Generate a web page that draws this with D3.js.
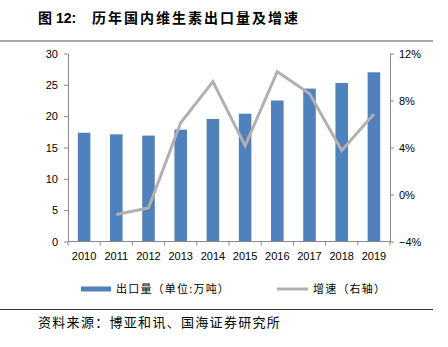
<!DOCTYPE html>
<html><head><meta charset="utf-8">
<script src="https://cdn.jsdelivr.net/npm/d3@7"></script>
<style>body{margin:0;background:#fff}svg{display:block}</style>
</head><body>
<script>
const years = ["2010","2011","2012","2013","2014","2015","2016","2017","2018","2019"];
const exportVolume = [17.35, 17.1, 16.9, 17.85, 19.55, 20.4, 22.5, 24.4, 25.3, 27.0];
const growth = [null, -1.7, -1.15, 6.1, 9.6, 4.15, 10.45, 8.6, 3.75, 6.85];
const leftTicks = [0,5,10,15,20,25,30];
const rightTicks = [-4,0,4,8,12];

const W=448,H=347;
const svg=d3.select("body").append("svg").attr("width",W).attr("height",H);
const cjk='"Noto Sans CJK SC","Liberation Sans",sans-serif';
const latin='"Liberation Sans",Arial,sans-serif';

// title
svg.append("text").attr("x",38).attr("y",23).attr("font-family",cjk).attr("font-weight","bold").attr("font-size",14).text("图");
svg.append("text").attr("x",56).attr("y",23).attr("font-family",latin).attr("font-weight","bold").attr("font-size",14).text("12:");
svg.append("text").attr("x",92).attr("y",23).attr("font-family",cjk).attr("font-weight","bold").attr("font-size",14).attr("letter-spacing",2).text("历年国内维生素出口量及增速");
svg.append("line").attr("x1",0).attr("x2",433).attr("y1",41).attr("y2",41).attr("stroke","#555").attr("stroke-width",1.2);

const x=d3.scaleBand().domain(years).range([68,390]).paddingInner(0.61).paddingOuter(0.305);
const xb=d3.scaleBand().domain(years).range([68,390]);
const yL=d3.scaleLinear().domain([0,30]).range([241.5,53.5]);
const yR=d3.scaleLinear().domain([-4,12]).range([241.5,53.5]);

// bars
svg.append("g").selectAll("rect").data(years).join("rect")
 .attr("x",d=>x(d)).attr("width",x.bandwidth())
 .attr("y",(d,i)=>yL(exportVolume[i])).attr("height",(d,i)=>yL(0)-yL(exportVolume[i]))
 .attr("fill","#4F81BD");

// line
const line=d3.line().defined(d=>d.v!==null).x(d=>xb(d.y)+xb.bandwidth()/2).y(d=>yR(d.v));
svg.append("path").datum(years.map((y,i)=>({y,v:growth[i]})))
 .attr("d",line).attr("fill","none").attr("stroke","#B0B0B0").attr("stroke-width",3).attr("stroke-linejoin","miter");

const axisColor="#888";
function style(g){g.select(".domain").attr("stroke",axisColor);g.selectAll(".tick line").attr("stroke",axisColor);
 g.selectAll("text").attr("font-family",latin).attr("font-size",11).attr("fill","#000");}

svg.append("g").attr("transform","translate(68,0)")
 .call(d3.axisLeft(yL).tickValues(leftTicks).tickSize(4).tickSizeOuter(0).tickPadding(6)).call(style);
svg.append("g").attr("transform","translate(390,0)")
 .call(d3.axisRight(yR).tickValues(rightTicks).tickFormat(d=>d+"%").tickSize(4).tickSizeOuter(0).tickPadding(5)).call(style)
 .selectAll("text").text(d=>(d<0?"−":"")+Math.abs(d)+"%");

const xg=svg.append("g").attr("transform","translate(0,241.5)");
xg.append("line").attr("x1",68).attr("x2",390).attr("stroke",axisColor);
xg.selectAll("line.tk").data(years.concat(["end"])).join("line").attr("class","tk")
 .attr("x1",d=>d==="end"?390:xb(d)).attr("x2",d=>d==="end"?390:xb(d)).attr("y1",0).attr("y2",4).attr("stroke",axisColor);
xg.selectAll("text").data(years).join("text")
 .attr("x",d=>xb(d)+xb.bandwidth()/2).attr("y",18).attr("text-anchor","middle")
 .attr("font-family",latin).attr("font-size",11).text(d=>d);

// legend
svg.append("rect").attr("x",81).attr("y",286.5).attr("width",30).attr("height",5).attr("fill","#4F81BD");
svg.append("text").attr("x",116).attr("y",293).attr("font-family",cjk).attr("font-size",11).attr("letter-spacing",1.2).text("出口量（单位:万吨）");
svg.append("line").attr("x1",277).attr("x2",308).attr("y1",289).attr("y2",289).attr("stroke","#B0B0B0").attr("stroke-width",3);
svg.append("text").attr("x",313).attr("y",293).attr("font-family",cjk).attr("font-size",11).attr("letter-spacing",1.2).text("增速（右轴）");

svg.append("line").attr("x1",0).attr("x2",433).attr("y1",309.5).attr("y2",309.5).attr("stroke","#333").attr("stroke-width",1);
svg.append("text").attr("x",38).attr("y",327).attr("font-family",cjk).attr("font-size",13).attr("letter-spacing",1.3).text("资料来源：博亚和讯、国海证券研究所");
</script>
</body></html>
